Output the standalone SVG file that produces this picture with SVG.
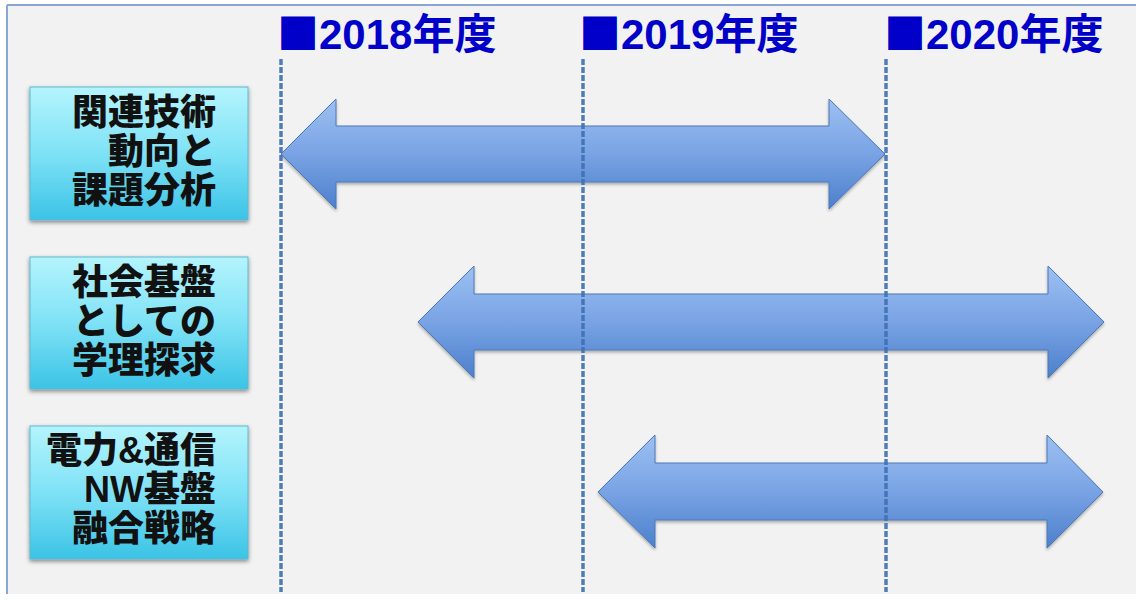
<svg xmlns="http://www.w3.org/2000/svg" width="1136" height="602" viewBox="0 0 1136 602">
<defs>
<linearGradient id="boxg" x1="0" y1="0" x2="0" y2="1">
<stop offset="0" stop-color="#b4f4fd"/>
<stop offset="0.5" stop-color="#7fe2f6"/>
<stop offset="1" stop-color="#3bc3e6"/>
</linearGradient>
<linearGradient id="arrg" x1="0" y1="0" x2="0" y2="1">
<stop offset="0" stop-color="#9dc0f2"/>
<stop offset="0.5" stop-color="#79a3e4"/>
<stop offset="1" stop-color="#4c80cc"/>
</linearGradient>
<filter id="sh" x="-10%" y="-10%" width="120%" height="130%">
<feDropShadow dx="0" dy="2" stdDeviation="2" flood-color="#000" flood-opacity="0.45"/>
</filter>
<filter id="ash" x="-5%" y="-10%" width="110%" height="130%">
<feDropShadow dx="0" dy="2" stdDeviation="1.5" flood-color="#000" flood-opacity="0.3"/>
</filter>
</defs>
<style>
.box{fill:url(#boxg);stroke:#5fb8d0;stroke-width:1;filter:url(#sh)}
.lbl{font-family:"Liberation Sans","Noto Sans CJK JP",sans-serif;font-weight:900;font-size:36px;fill:#111;text-anchor:end}
.yr{font-family:"Liberation Sans","Noto Sans CJK JP",sans-serif;font-weight:bold;font-size:42px;fill:#0000c8}
.sq{font-family:"Noto Sans CJK JP",sans-serif}
.arr{fill:url(#arrg);stroke:#4a78b8;stroke-width:1;filter:url(#ash)}
.dash{stroke:#3f70b4;stroke-width:3.5;stroke-dasharray:6 2;opacity:0.9}
</style>
<rect x="0" y="0" width="1136" height="602" fill="#ffffff"/>
<rect x="7" y="5" width="1135" height="589" fill="#f2f2f2"/>
<line x1="7" y1="5" x2="1136" y2="5" stroke="#8aa6d2" stroke-width="2"/>
<line x1="7" y1="5" x2="7" y2="594" stroke="#8aa6d2" stroke-width="2"/>

<g id="year2018"><text class="yr" x="277" y="49"><tspan class="sq">■</tspan>2018年度</text></g>
<g id="year2019"><text class="yr" x="579" y="49"><tspan class="sq">■</tspan>2019年度</text></g>
<g id="year2020"><text class="yr" x="884" y="49"><tspan class="sq">■</tspan>2020年度</text></g>

<g id="node1">
<rect class="box" x="30" y="87" width="218" height="133"/>
<text class="lbl" x="216" y="125">関連技術</text>
<text class="lbl" x="216" y="164">動向と</text>
<text class="lbl" x="216" y="203">課題分析</text>
</g>
<g id="node2">
<rect class="box" x="30" y="257" width="218" height="132"/>
<text class="lbl" x="216" y="295">社会基盤</text>
<text class="lbl" x="216" y="334">としての</text>
<text class="lbl" x="216" y="373">学理探求</text>
</g>
<g id="node3">
<rect class="box" x="30" y="426" width="218" height="133"/>
<text class="lbl" x="216" y="463">電力&amp;通信</text>
<text class="lbl" x="216" y="502">NW基盤</text>
<text class="lbl" x="216" y="541">融合戦略</text>
</g>

<g id="connectors">
<path class="arr" d="M281,154 L336,99 L336,126 L829,126 L829,99 L885,154 L829,209 L829,182 L336,182 L336,209 Z"/>
<path class="arr" d="M418,322 L474,266 L474,294 L1048,294 L1048,266 L1104,322 L1048,378 L1048,350 L474,350 L474,378 Z"/>
<path class="arr" d="M598,492 L655,435 L655,463 L1047,463 L1047,435 L1103,492 L1047,548 L1047,520 L655,520 L655,548 Z"/>
<line class="dash" x1="281" y1="59" x2="281" y2="592"/>
<line class="dash" x1="583" y1="59" x2="583" y2="592"/>
<line class="dash" x1="886" y1="59" x2="886" y2="592"/>
</g>
</svg>
